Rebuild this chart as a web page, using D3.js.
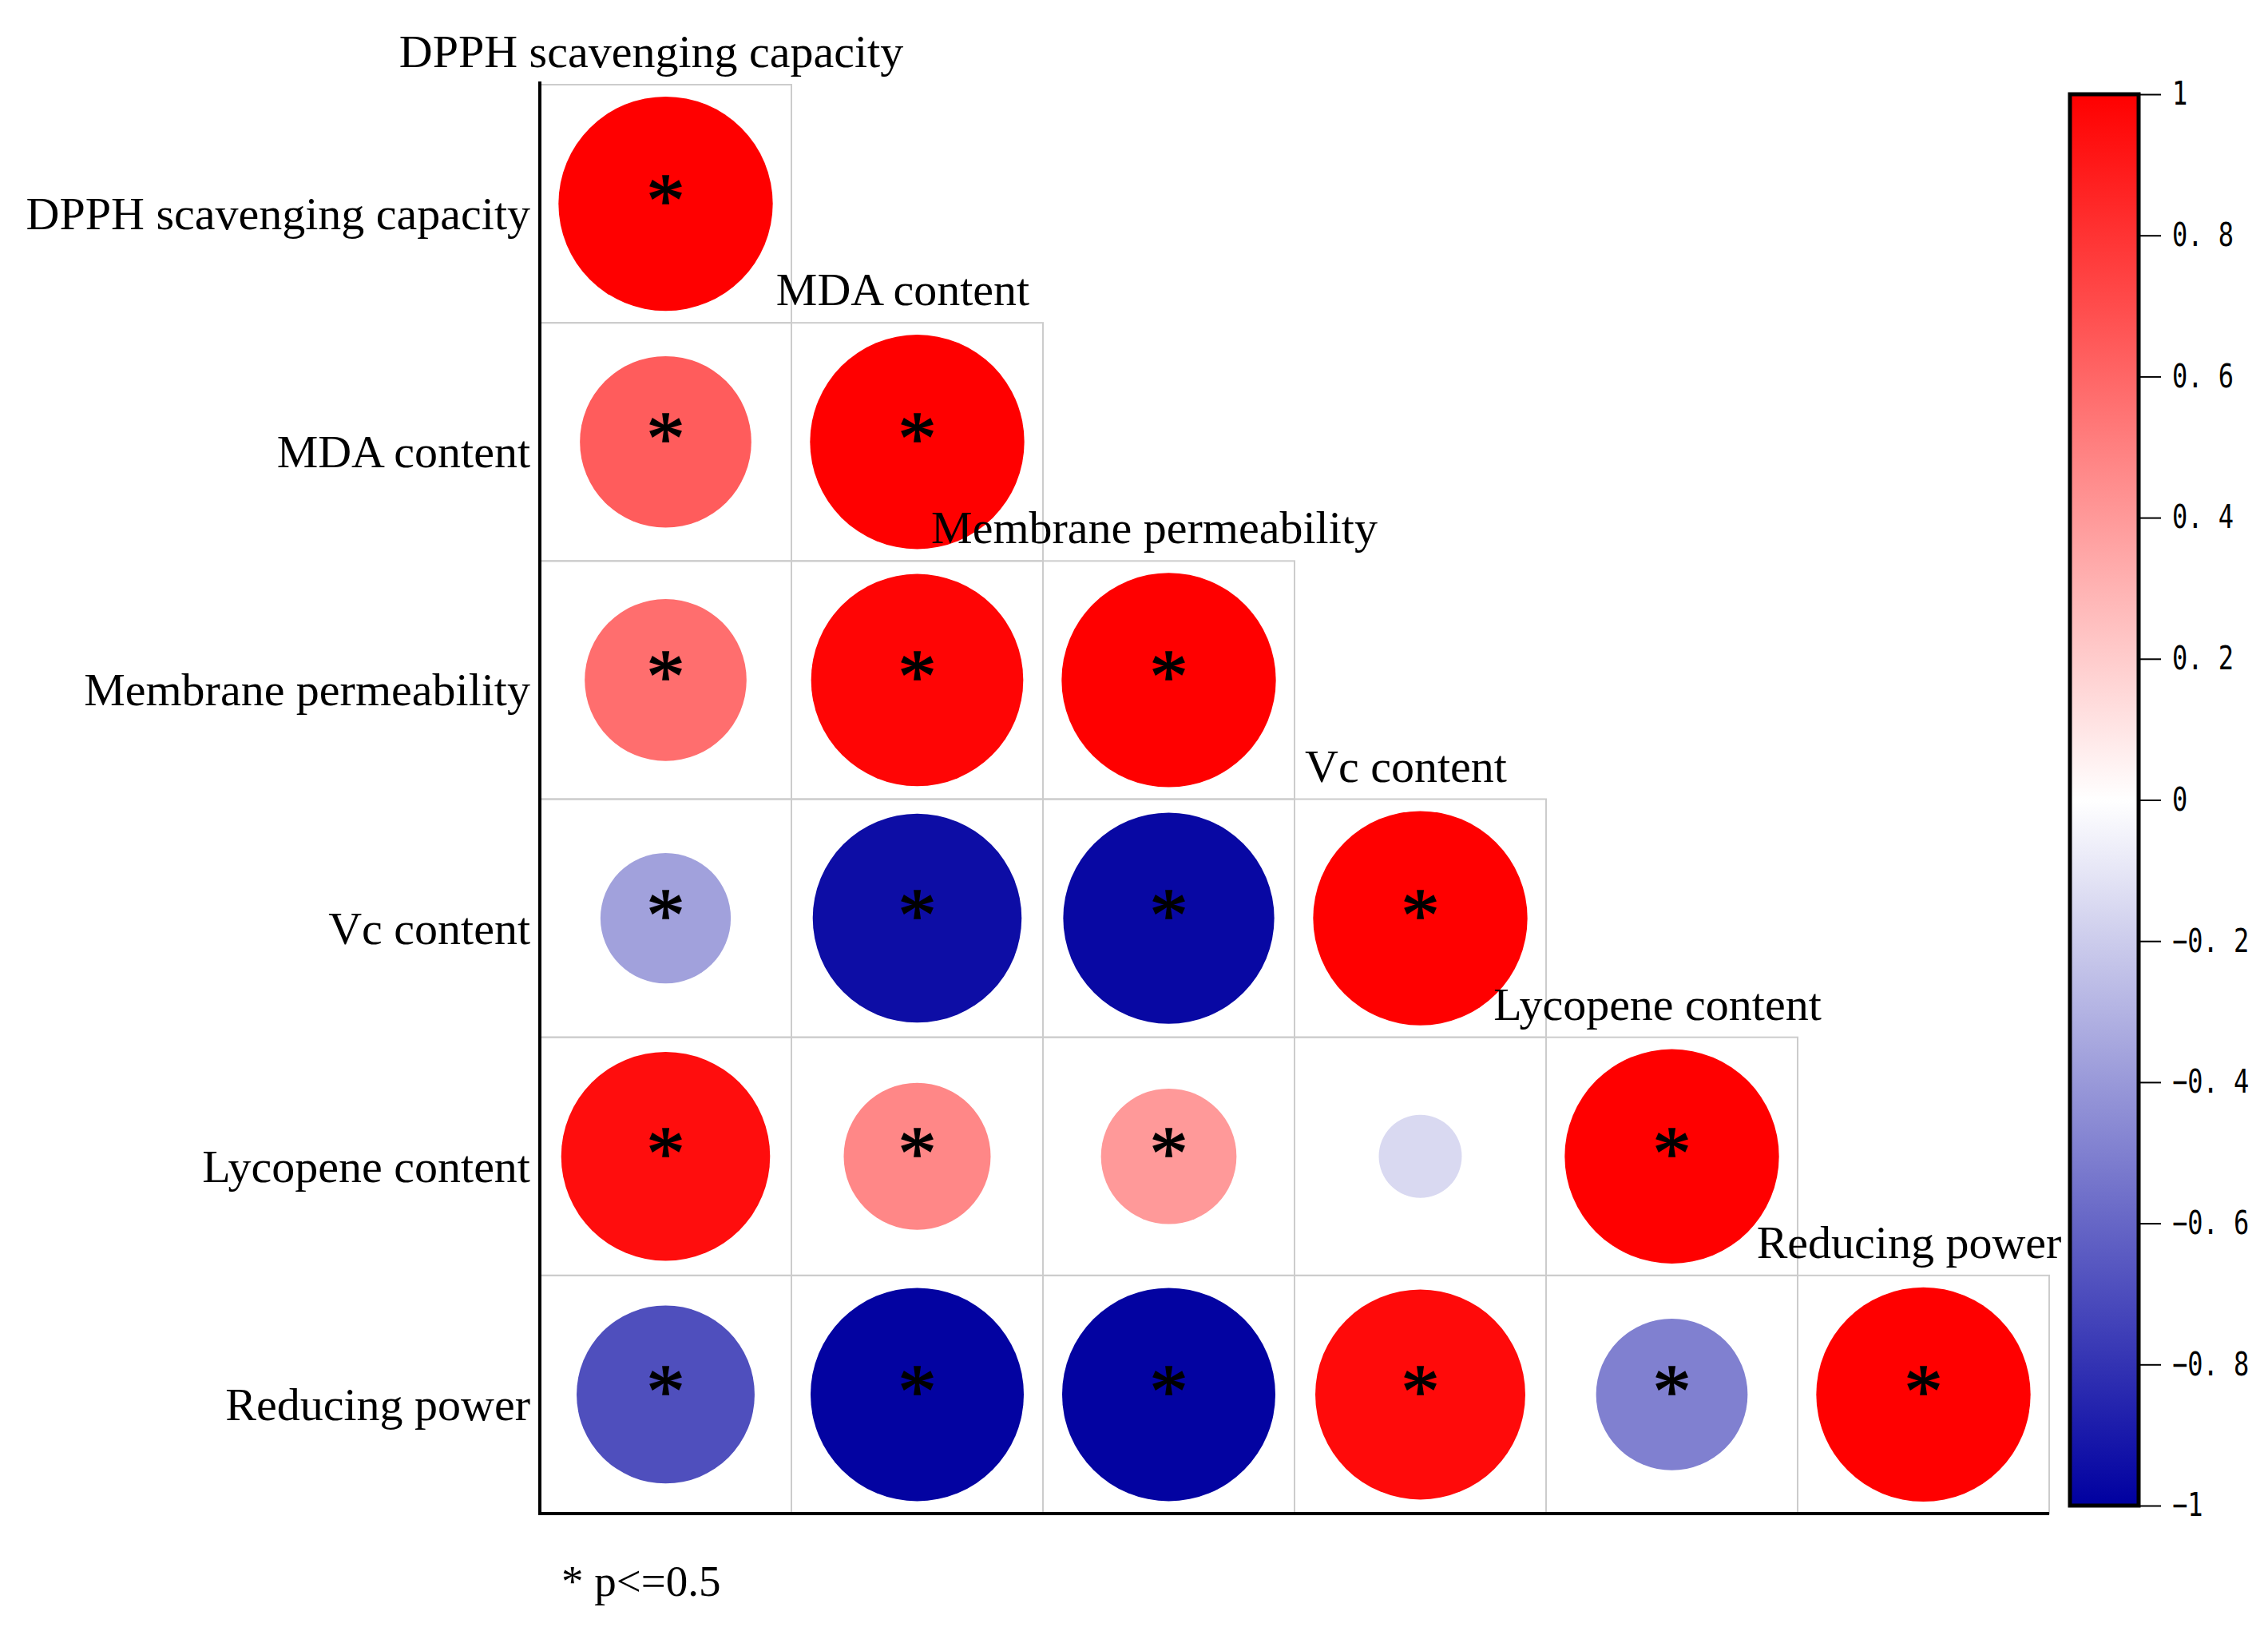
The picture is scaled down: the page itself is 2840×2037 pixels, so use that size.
<!DOCTYPE html>
<html>
<head>
<meta charset="utf-8">
<script src="https://cdn.jsdelivr.net/npm/d3@7"></script>
<style>
  body { margin: 0; background: #fff; }
  text { font-family: "Liberation Serif", "Times New Roman", serif; }
</style>
</head>
<body>
<div id="chart"></div>
<script>
// variables in matrix order
const variables = ["DPPH scavenging capacity", "MDA content", "Membrane permeability",
                   "Vc content", "Lycopene content", "Reducing power"];

// lower triangle of the correlation matrix, one row per variable
const corrRows = [
    [1],
    [0.64, 1],
    [0.57, 0.98, 1],
    [-0.37, -0.95, -0.97, 1],
    [0.95, 0.47, 0.40, -0.15, 1],
    [-0.69, -0.99, -0.99, 0.96, -0.50, 1]
];

// significance marks (1 = asterisk)
const sigRows = [
    [1],
    [1, 1],
    [1, 1, 1],
    [1, 1, 1, 1],
    [1, 1, 1, 0, 1],
    [1, 1, 1, 1, 1, 1]
];

const legendTicks = [1, 0.8, 0.6, 0.4, 0.2, 0, -0.2, -0.4, -0.6, -0.8, -1];
const footnote = "* p<=0.5";

const width = 2840, height = 2037;

const svg = d3.select('#chart').append('svg')
    .attr('width', width)
    .attr('height', height);

svg.append('rect').attr('width', width).attr('height', height).attr('fill', '#fff');

const x = d3.scaleBand().domain(variables).range([676, 2566]);
const y = d3.scaleBand().domain(variables).range([106, 1895]);
const bw = x.bandwidth(), bh = y.bandwidth();

const color = d3.scaleLinear()
    .domain([-1, 0, 1])
    .range(['#0000a0', '#ffffff', '#ff0000']);
const radius = d3.scaleSqrt().domain([0, 1]).range([0, 0.45 * Math.min(bw, bh)]);

// flatten the triangle into cells
const cells = [];
corrRows.forEach((row, i) => {
    row.forEach((v, j) => {
        cells.push({ row: variables[i], col: variables[j], value: v, sig: sigRows[i][j] });
    });
});

// grey cell boxes
svg.selectAll('.cell')
    .data(cells)
    .enter().append('rect')
    .attr('class', 'cell')
    .attr('x', d => x(d.col))
    .attr('y', d => y(d.row))
    .attr('width', bw)
    .attr('height', bh)
    .attr('fill', 'none')
    .attr('stroke', '#cccccc')
    .attr('stroke-width', 2);

svg.selectAll('.dot')
    .data(cells)
    .enter().append('circle')
    .attr('class', 'dot')
    .attr('cx', d => x(d.col) + bw / 2)
    .attr('cy', d => y(d.row) + bh / 2)
    .attr('r', d => radius(Math.abs(d.value)))
    .attr('fill', d => color(d.value));

svg.selectAll('.star')
    .data(cells.filter(d => d.sig))
    .enter().append('text')
    .attr('class', 'star')
    .attr('x', d => x(d.col) + bw / 2)
    .attr('y', d => y(d.row) + bh / 2 + 28)
    .attr('text-anchor', 'middle')
    .style('font-size', '96px')
    .style('stroke', '#000')
    .style('stroke-width', 1.5)
    .text('*');

// black left and bottom frame
svg.append('line')
    .attr('x1', x.range()[0]).attr('x2', x.range()[0])
    .attr('y1', y.range()[0] - 4).attr('y2', y.range()[1] + 2)
    .attr('stroke', '#000').attr('stroke-width', 4);
svg.append('line')
    .attr('x1', x.range()[0] - 2).attr('x2', x.range()[1])
    .attr('y1', y.range()[1]).attr('y2', y.range()[1])
    .attr('stroke', '#000').attr('stroke-width', 4);

// row labels
svg.selectAll('.row-label')
    .data(variables)
    .enter().append('text')
    .attr('class', 'row-label')
    .attr('x', x.range()[0] - 12)
    .attr('y', d => y(d) + bh / 2 + 32)
    .attr('text-anchor', 'end')
    .style('font-size', '58px')
    .text(d => d);

// column labels above the diagonal
svg.selectAll('.col-label')
    .data(variables)
    .enter().append('text')
    .attr('class', 'col-label')
    .attr('x', d => x(d) + bw / 2 - 18)
    .attr('y', d => y(d) - 22)
    .attr('text-anchor', 'middle')
    .style('font-size', '58px')
    .text(d => d);

// colour bar
const barX = 2592, barW = 86;
const ly = d3.scaleLinear().domain([-1, 1]).range([1885, 118]);

const defs = svg.append('defs');
const grad = defs.append('linearGradient')
    .attr('id', 'bar-grad')
    .attr('x1', 0).attr('y1', 1).attr('x2', 0).attr('y2', 0);
d3.range(0, 21).forEach(k => {
    const v = -1 + k * 0.1;
    grad.append('stop')
        .attr('offset', (k / 20 * 100) + '%')
        .attr('stop-color', color(v));
});

svg.append('rect')
    .attr('x', barX)
    .attr('y', ly(1))
    .attr('width', barW)
    .attr('height', ly(-1) - ly(1))
    .attr('fill', 'url(#bar-grad)')
    .attr('stroke', '#000')
    .attr('stroke-width', 5);

const fmt = d => {
    if (d === 0) return '0';
    const s = d < 0 ? '\u2212' : '';
    const a = Math.abs(d);
    if (a === 1) return s + '1';
    return s + '0. ' + Math.round(a * 10);
};

const axis = d3.axisRight(ly)
    .tickValues(legendTicks)
    .tickSize(26)
    .tickPadding(12)
    .tickFormat(fmt);

const ag = svg.append('g')
    .attr('transform', `translate(${barX + barW + 2},0)`)
    .call(axis);
ag.select('.domain').remove();
ag.selectAll('.tick line').attr('stroke', '#000').attr('stroke-width', 2);
const sx = 0.8;
ag.selectAll('.tick text')
    .attr('fill', '#000')
    .attr('x', 40 / sx)
    .attr('transform', `scale(${sx},1)`)
    .style('font-family', '"DejaVu Sans Mono", monospace')
    .style('font-size', '40px');

// footnote
svg.append('text')
    .attr('x', 703)
    .attr('y', 1998)
    .style('font-size', '55px')
    .text(footnote);
</script>
</body>
</html>
